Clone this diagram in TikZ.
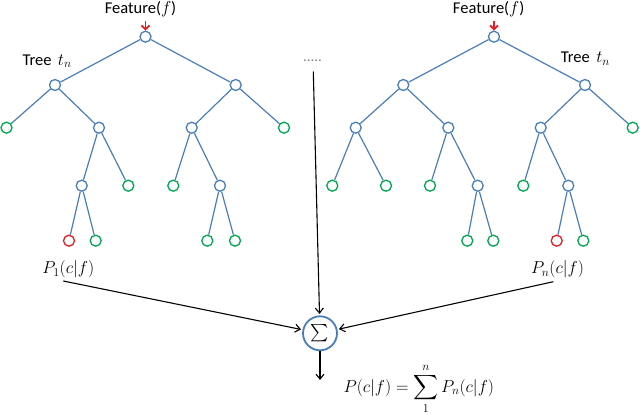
\documentclass[tikz,border=0pt]{standalone}
\usepackage{amsmath}
\usepackage{fontspec}
\setmainfont{Carlito}
\usetikzlibrary{arrows.meta}
\definecolor{treeblue}{HTML}{4A7EBB}
\definecolor{leafgreen}{HTML}{00A651}
\definecolor{leafred}{HTML}{E31E24}
\tikzset{
  innernode/.style={circle, draw=treeblue, fill=white, line width=1.3pt, minimum size=11pt, inner sep=0pt},
  leafnode/.style={circle, draw=leafgreen, fill=white, line width=1.3pt, minimum size=11pt, inner sep=0pt},
  rednode/.style={circle, draw=leafred, fill=white, line width=1.3pt, minimum size=11pt, inner sep=0pt},
  edge/.style={draw=treeblue, line width=1.2pt},
  lbl/.style={font=\fontsize{16.5}{18}\selectfont, inner sep=0pt},
  mlbl/.style={font=\fontsize{17}{20}\selectfont, inner sep=0pt},
  arr/.style={draw=black, line width=1.1pt, -{Straight Barb[length=5pt,width=8pt]}},
  redarr/.style={draw=leafred, line width=1.8pt, -{Straight Barb[length=4pt,width=8pt]}},
  sumnode/.style={circle, draw=treeblue, fill=white, line width=1.8pt, minimum size=34pt, inner sep=0pt}
}
\begin{document}
\begin{tikzpicture}[x=1pt,y=-1pt]
\useasboundingbox (0,0) rectangle (640,415);
% ---- left tree ----
\node[innernode] (L0) at (145.5,36.7) {};
\node[innernode] (L1a) at (55,85) {};
\node[innernode] (L1b) at (235.7,85) {};
\node[leafnode] (L2a) at (6.5,127.7) {};
\node[innernode] (L2b) at (99,127.7) {};
\node[innernode] (L2c) at (191.7,127.7) {};
\node[leafnode] (L2d) at (284,127.7) {};
\node[innernode] (L3a) at (81.7,185.7) {};
\node[leafnode] (L3b) at (128.3,185.7) {};
\node[leafnode] (L3c) at (173.3,185.7) {};
\node[innernode] (L3d) at (220,185.7) {};
\node[rednode] (L4a) at (69,240.7) {};
\node[leafnode] (L4b) at (95.7,240.7) {};
\node[leafnode] (L4c) at (207.3,240.7) {};
\node[leafnode] (L4d) at (235,240.7) {};
\draw[edge] (L0) -- (L1a);
\draw[edge] (L0) -- (L1b);
\draw[edge] (L1a) -- (L2a);
\draw[edge] (L1a) -- (L2b);
\draw[edge] (L1b) -- (L2c);
\draw[edge] (L1b) -- (L2d);
\draw[edge] (L2b) -- (L3a);
\draw[edge] (L2b) -- (L3b);
\draw[edge] (L2c) -- (L3c);
\draw[edge] (L2c) -- (L3d);
\draw[edge] (L3a) -- (L4a);
\draw[edge] (L3a) -- (L4b);
\draw[edge] (L3d) -- (L4c);
\draw[edge] (L3d) -- (L4d);
% ---- right tree ----
\node[innernode] (R0) at (494,36.7) {};
\node[innernode] (R1a) at (403.3,85) {};
\node[innernode] (R1b) at (585,85) {};
\node[innernode] (R2a) at (355.7,127.7) {};
\node[innernode] (R2b) at (448.3,127.7) {};
\node[innernode] (R2c) at (540.7,127.7) {};
\node[leafnode] (R2d) at (632.7,127.7) {};
\node[leafnode] (R3a) at (332.3,185.7) {};
\node[leafnode] (R3b) at (386,185.7) {};
\node[leafnode] (R3c) at (430,185.7) {};
\node[innernode] (R3d) at (477.7,185.7) {};
\node[leafnode] (R3e) at (523.3,185.7) {};
\node[innernode] (R3f) at (568.3,185.7) {};
\node[leafnode] (R4a) at (467.3,240.7) {};
\node[leafnode] (R4b) at (493.3,240.7) {};
\node[rednode] (R4c) at (556.7,240.7) {};
\node[leafnode] (R4d) at (583.3,240.7) {};
\draw[edge] (R0) -- (R1a);
\draw[edge] (R0) -- (R1b);
\draw[edge] (R1a) -- (R2a);
\draw[edge] (R1a) -- (R2b);
\draw[edge] (R1b) -- (R2c);
\draw[edge] (R1b) -- (R2d);
\draw[edge] (R2a) -- (R3a);
\draw[edge] (R2a) -- (R3b);
\draw[edge] (R2b) -- (R3c);
\draw[edge] (R2b) -- (R3d);
\draw[edge] (R2c) -- (R3e);
\draw[edge] (R2c) -- (R3f);
\draw[edge] (R3d) -- (R4a);
\draw[edge] (R3d) -- (R4b);
\draw[edge] (R3f) -- (R4c);
\draw[edge] (R3f) -- (R4d);
% ---- labels ----
\node[lbl, anchor=base] (featL) at (140.5,13.5) {Feature($f$)};
\node[lbl, anchor=base] (featR) at (488.7,13.5) {Feature($f$)};
\node[lbl, anchor=base west] (treeL) at (22.3,65) {Tree\, {\fontsize{18}{20}\selectfont$t_n$}};
\node[lbl, anchor=base west] (treeR) at (560.7,62.5) {Tree\, {\fontsize{18}{20}\selectfont$t_n$}};
\coordinate (fL) at (145.5,21);
\coordinate (fR) at (494,21);
\draw[redarr] (fL) -- (L0);
\draw[redarr] (fR) -- (R0);
\node[font=\fontsize{15}{15}\selectfont, text=gray, inner sep=0pt] (dots) at (312.5,61) {.....};
% ---- aggregation ----
\node[sumnode, font=\fontsize{16}{16}\selectfont] (sum) at (320,333.3) {$\sum$};
\node[mlbl] (p1) at (68.3,269.3) {$P_1(c|f)$};
\node[mlbl] (pn) at (557.5,269.5) {$P_n(c|f)$};
\coordinate (p1s) at (63.3,281);
\coordinate (pns) at (553.3,281.7);
\coordinate (dotss) at (313.3,71.5);
\coordinate (outend) at (320,380);
\draw[arr, shorten >=1.5pt] (dotss) -- (sum);
\draw[arr, shorten >=1.5pt] (p1s) -- (sum);
\draw[arr, shorten >=1.5pt] (pns) -- (sum);
\draw[arr] (sum) -- (outend);
\node[mlbl, anchor=west] (formula) at (343.3,389) {$\displaystyle P(c|f) = \sum_{1}^{n} P_n(c|f)$};
\end{tikzpicture}
\end{document}
